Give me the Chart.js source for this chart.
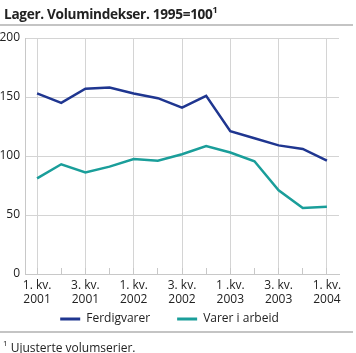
<!DOCTYPE html>
<html><head><meta charset="utf-8">
<script src="https://cdn.jsdelivr.net/npm/chart.js@4/dist/chart.umd.min.js"></script>
<style>
html,body{margin:0;padding:0;background:#fff;}
body{width:356px;height:353px;position:relative;overflow:hidden;font-family:"Open Sans",sans-serif;color:#222;}
#title{position:absolute;left:4px;top:4px;font-size:13.6px;font-weight:bold;white-space:nowrap;letter-spacing:-0.3px;}
#title sup{font-size:9px;vertical-align:top;position:relative;top:-1px;}
#line1{position:absolute;left:0;top:24px;width:353px;height:2px;background:#c4c4c4;}
#line2{position:absolute;left:0;top:331px;width:353px;height:2px;background:#c4c4c4;}
#foot{position:absolute;left:3px;top:339px;font-size:12px;white-space:nowrap;}
#foot sup{font-size:8px;vertical-align:top;position:relative;top:-2px;}
#wrap{position:absolute;left:0;top:0;width:356px;height:353px;}
</style></head>
<body>
<div id="wrap"><canvas id="c" width="356" height="353"></canvas></div>
<div id="title">Lager. Volumindekser. 1995=100<sup>1</sup></div>
<div id="line1"></div>
<div id="line2"></div>
<div id="foot"><sup>1</sup> Ujusterte volumserier.</div>
<script>
const categories = [
  ['1. kv.','2001'], '', ['3. kv.','2001'], '',
  ['1. kv.','2002'], '', ['3. kv.','2002'], '',
  ['1 .kv.','2003'], '', ['3. kv.','2003'], '',
  ['1. kv.','2004']
];
const ferdigvarer = [153, 145, 157, 158, 153, 149, 141, 151, 121, 115, 109, 106, 96];
const varerIArbeid = [81, 93, 86, 91, 97.5, 96, 101.5, 108.5, 103, 95.5, 71, 56, 57];
const yTicks = [0, 50, 100, 150, 200];
const seriesNames = ['Ferdigvarer', 'Varer i arbeid'];

const FONT = '"Open Sans", sans-serif';
new Chart(document.getElementById('c'), {
  type: 'line',
  data: {
    labels: categories,
    datasets: [
      {label: seriesNames[0], data: ferdigvarer, borderColor: '#1f3690', backgroundColor: '#1f3690', borderWidth: 2.5, pointRadius: 0, tension: 0},
      {label: seriesNames[1], data: varerIArbeid, borderColor: '#1a9e9a', backgroundColor: '#1a9e9a', borderWidth: 2.5, pointRadius: 0, tension: 0}
    ]
  },
  options: {
    responsive: false,
    animation: false,
    events: [],
    layout: {padding: {top: 38, right: 17, left: 0, bottom: 18}},
    plugins: {
      tooltip: {enabled: false},
      legend: {
        position: 'bottom',
        labels: {
          font: {family: FONT, size: 12},
          color: '#222',
          boxWidth: 20, boxHeight: 0, padding: 3,
          generateLabels(chart) {
            return chart.data.datasets.map((d, i) => ({
              text: d.label + (i === 0 ? '\u2003\u2003' : ''), strokeStyle: d.borderColor, fillStyle: d.borderColor,
              lineWidth: 3, datasetIndex: i, hidden: false, fontColor: '#222'
            }));
          }
        }
      }
    },
    scales: {
      x: {
        offset: true,
        afterFit(scale) { scale.height = 36; },
        grid: {
          offset: false,
          color: ctx => (ctx.index % 2 === 0 ? '#d4d4d4' : 'rgba(0,0,0,0)'),
          tickColor: '#c8c8c8',
          tickLength: -6,
          lineWidth: 1
        },
        border: {display: true, color: '#c8c8c8'},
        ticks: {
          autoSkip: false, maxRotation: 0, minRotation: 0,
          padding: 10,
          font: {family: FONT, size: 12}, color: '#222'
        }
      },
      y: {
        min: 0, max: 200,
        afterBuildTicks(scale) { scale.ticks = yTicks.map(v => ({value: v})); },
        afterFit(scale) { scale.width = 25; },
        grid: {color: '#d4d4d4', drawTicks: false, lineWidth: 1},
        border: {display: true, color: '#c8c8c8'},
        ticks: {padding: 5, font: {family: FONT, size: 12}, color: '#222'}
      }
    }
  }
});
</script>
</body></html>
